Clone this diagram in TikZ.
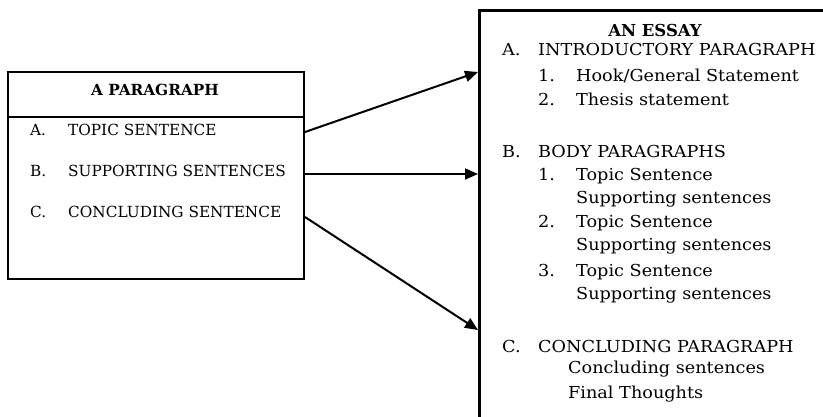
\documentclass[tikz,border=0pt]{standalone}
\usepackage{fontspec}
\setmainfont{DejaVu Serif}
\newfontfamily\rfam[FakeStretch=1.07]{DejaVu Serif}
\usetikzlibrary{arrows.meta}
\newcommand{\lfnt}{\fontsize{15.3}{18}\selectfont}
\newcommand{\rfnt}{\rfam\fontsize{16.5}{19}\selectfont}
\newcommand{\hfnt}{\fontsize{16.5}{19}\selectfont\bfseries}
\begin{document}
\begin{tikzpicture}[x=1pt,y=-1pt,
  box/.style={draw, line width=2pt, anchor=north west, inner sep=0pt},
  ltxt/.style={anchor=base west, inner sep=0pt, font=\lfnt},
  rtxt/.style={anchor=base west, inner sep=0pt, font=\rfnt},
  arr/.style={line width=2pt, -{Triangle[length=13pt,width=11pt]}}]
\useasboundingbox (0,0) rectangle (823,416);
\begin{scope}
\clip (0,0) rectangle (823,416);
% left box
\node[box, minimum width=296pt, minimum height=207pt] (para) at (7,71) {};
\draw[line width=2pt] (para.west |- 0,117) -- (para.east |- 0,117);
\node[anchor=base, inner sep=0pt, font=\lfnt\bfseries] (ph) at (155,95) {A PARAGRAPH};
\node[ltxt] (la) at (30,135) {A.};
\node[ltxt] (lat) at (68,135) {TOPIC SENTENCE};
\node[ltxt] (lb) at (30,176) {B.};
\node[ltxt] (lbt) at (68,176) {SUPPORTING SENTENCES};
\node[ltxt] (lc) at (30,217) {C.};
\node[ltxt] (lct) at (68,217) {CONCLUDING SENTENCE};
% right box
\node[box, line width=2.5pt, minimum width=420pt, minimum height=460pt] (essay) at (478,9) {};
\node[anchor=base, inner sep=0pt, font=\hfnt] (eh) at (655,36) {AN ESSAY};
\node[rtxt] (ra) at (502,55) {A.};
\node[rtxt] (rat) at (538,55) {INTRODUCTORY PARAGRAPH};
\node[rtxt] (ra1) at (538,81) {1.};
\node[rtxt] (ra1t) at (576,81) {Hook/General Statement};
\node[rtxt] (ra2) at (538,105) {2.};
\node[rtxt] (ra2t) at (576,105) {Thesis statement};
\node[rtxt] (rb) at (502,157) {B.};
\node[rtxt] (rbt) at (538,157) {BODY PARAGRAPHS};
\node[rtxt] (rb1) at (538,180) {1.};
\node[rtxt] (rb1t) at (576,180) {Topic Sentence};
\node[rtxt] (rb1s) at (576,203) {Supporting sentences};
\node[rtxt] (rb2) at (538,227) {2.};
\node[rtxt] (rb2t) at (576,227) {Topic Sentence};
\node[rtxt] (rb2s) at (576,250) {Supporting sentences};
\node[rtxt] (rb3) at (538,276) {3.};
\node[rtxt] (rb3t) at (576,276) {Topic Sentence};
\node[rtxt] (rb3s) at (576,299) {Supporting sentences};
\node[rtxt] (rc) at (502,352) {C.};
\node[rtxt] (rct) at (538,352) {CONCLUDING PARAGRAPH};
\node[rtxt] (rc1) at (568,373) {Concluding sentences};
\node[rtxt] (rc2) at (568,398) {Final Thoughts};
% arrows
\draw[arr] (para.east |- 0,132) -- (essay.west |- 0,72);
\draw[arr] (para.east |- 0,174) -- (essay.west |- 0,174);
\draw[arr] (para.east |- 0,217) -- (essay.west |- 0,330);
\end{scope}
\end{tikzpicture}
\end{document}
